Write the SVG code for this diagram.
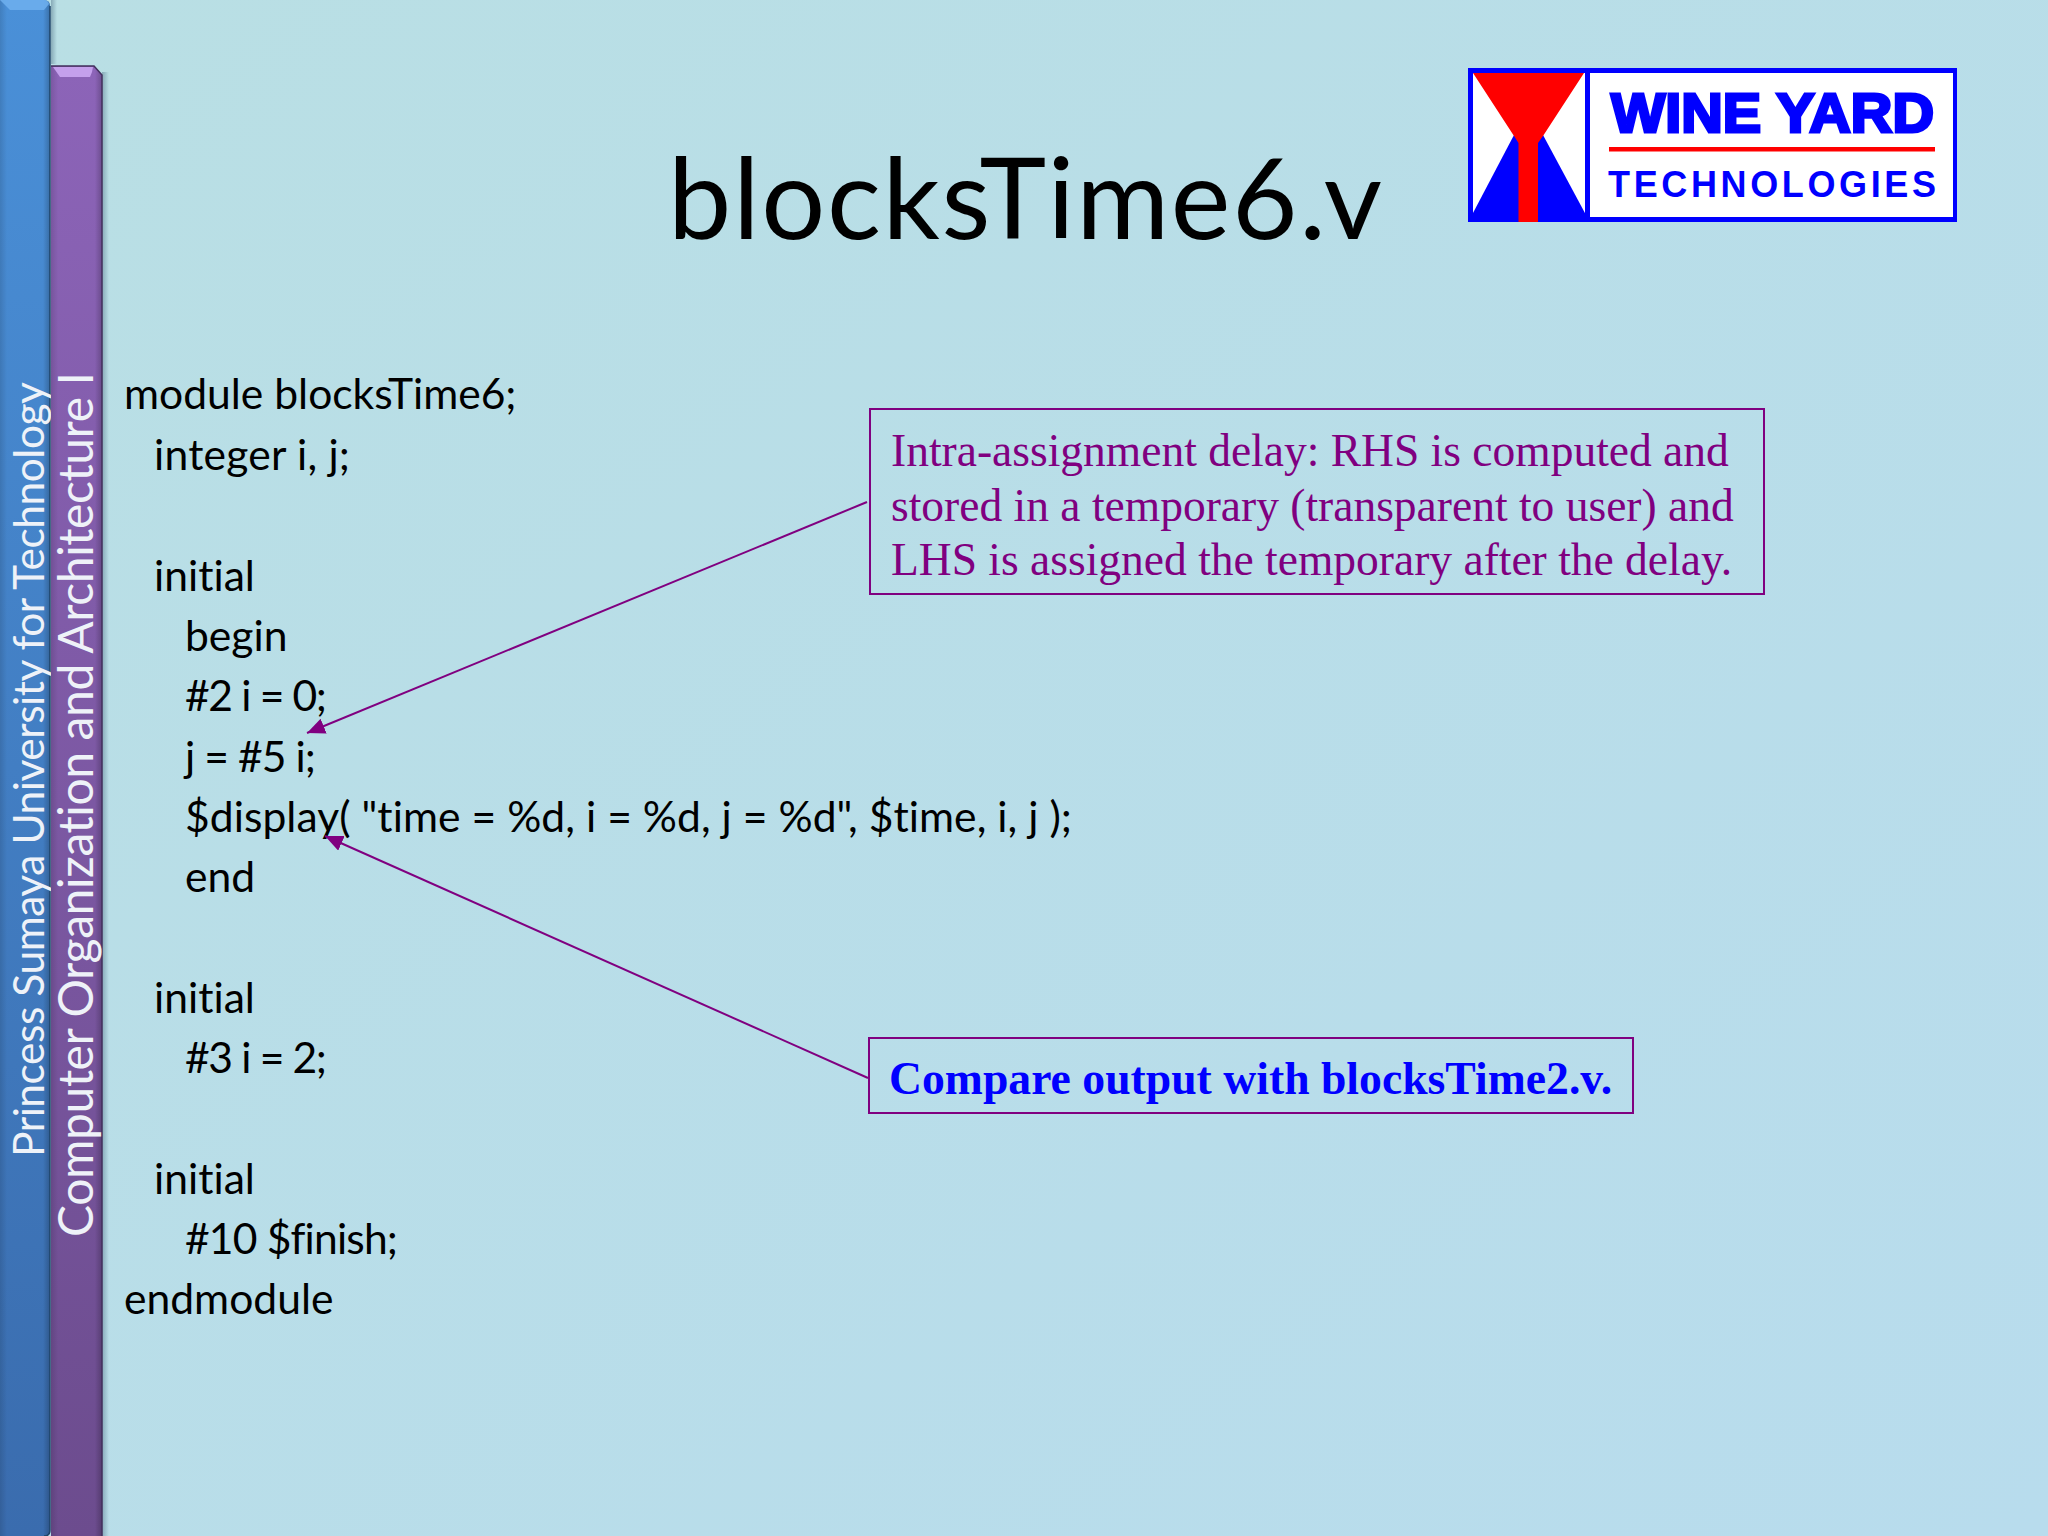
<svg xmlns="http://www.w3.org/2000/svg" width="2048" height="1536" viewBox="0 0 2048 1536">
<style>
text{font-variant-ligatures:none}
.code{font-family:"Lato","Open Sans",sans-serif;font-size:42.6px;fill:#000}
.side{font-family:"Lato","Open Sans",sans-serif;fill:#eef2f8}
.box{fill:none;stroke:#800080;stroke-width:2}
.conn{stroke:#800080;stroke-width:2;fill:none;marker-end:url(#ah)}
.note{font-family:"Liberation Serif",serif;font-size:45.5px;fill:#800080}
</style>
<defs>
<linearGradient id="bg" x1="0" y1="0" x2="1" y2="1"><stop offset="0" stop-color="#b9dfe4"/><stop offset="1" stop-color="#b8dced"/></linearGradient>
<linearGradient id="bl" x1="0" y1="0" x2="0" y2="1"><stop offset="0" stop-color="#4a90d8"/><stop offset="1" stop-color="#3a6cae"/></linearGradient>
<linearGradient id="pu" x1="0" y1="0" x2="0" y2="1"><stop offset="0" stop-color="#8c64b8"/><stop offset="1" stop-color="#6c4c8e"/></linearGradient>
<linearGradient id="edge" x1="0" y1="0" x2="1" y2="0"><stop offset="0" stop-color="#000" stop-opacity=".12"/><stop offset=".14" stop-color="#000" stop-opacity="0"/><stop offset=".86" stop-color="#000" stop-opacity="0"/><stop offset="1" stop-color="#000" stop-opacity=".22"/></linearGradient>
<linearGradient id="shade" x1="0" y1="0" x2="1" y2="0"><stop offset="0" stop-color="#4a6a80" stop-opacity=".45"/><stop offset="1" stop-color="#4a6a80" stop-opacity="0"/></linearGradient>
<marker id="ah" markerUnits="userSpaceOnUse" markerWidth="20" markerHeight="20" refX="18" refY="8" orient="auto"><path d="M0 0L18 8L0 16Z" fill="#800080"/></marker>
</defs>
<rect id="background" width="2048" height="1536" fill="url(#bg)"/>
<rect x="102" y="72" width="7" height="1464" fill="url(#shade)"/>
<rect x="51" y="0" width="6" height="64" fill="url(#shade)"/>
<g id="sidebar-blue">
<path d="M0 0H44Q50 0 50 6V1530Q50 1536 44 1536H0Z" fill="url(#bl)"/>
<path d="M0 0H44Q50 0 50 6V1530Q50 1536 44 1536H0Z" fill="url(#edge)"/>
<path d="M0 0H44Q48 0 49 4L44 10H10L4 4Z" fill="#6fb0ee" opacity=".85"/>
<path d="M50 6V1530Q50 1536 44 1536" fill="none" stroke="#1f4468" stroke-width="1.5"/>
<text class="side" transform="translate(44 1157) rotate(-90)" font-size="42.5" textLength="775">Princess Sumaya University for Technology</text>
</g>
<g id="sidebar-purple">
<path d="M51 66H94L102 75V1536H51Z" fill="url(#pu)"/>
<path d="M51 66H94L102 75V1536H51Z" fill="url(#edge)"/>
<path d="M53 67H93L92 72L90 77H60Z" fill="#c4a0ec"/>
<path d="M51 66H94L102 75V1536" fill="none" stroke="#43305e" stroke-width="1.500"/>
<text class="side" transform="translate(93 1237) rotate(-90)" font-size="48" textLength="865">Computer Organization and Architecture I</text>
</g>
<g id="title"><text x="668" y="239" font-family="Lato,'Open Sans',sans-serif" font-size="113" fill="#000" textLength="714">blocksTime6.v</text></g>
<g id="logo">
<rect x="1468" y="68" width="489" height="154" fill="#00f"/>
<rect x="1473" y="73" width="112" height="144" fill="#fff"/>
<rect x="1590" y="73" width="363" height="144" fill="#fff"/>
<path d="M1473 213L1514 135H1543L1586 215V222H1473Z" fill="#00f"/>
<path d="M1473 73H1584L1543 136L1538 143V222H1518.500V143L1514 136Z" fill="#f00"/>
<rect x="1609" y="147" width="326" height="4.500" fill="#f00"/>
<text x="1611" y="132" font-family="'Liberation Sans',sans-serif" font-weight="bold" font-size="55" fill="#00f" stroke="#00f" stroke-width="3" lengthAdjust="spacingAndGlyphs" textLength="323">WINE YARD</text>
<text x="1608" y="197" font-family="'Liberation Sans',sans-serif" font-weight="bold" font-size="36" fill="#00f" textLength="328">TECHNOLOGIES</text>
</g>
<g id="code">
<text class="code" x="124" y="409">module blocksTime6;</text>
<text class="code" x="154" y="470" textLength="196">integer i, j;</text>
<text class="code" x="154" y="591">initial</text>
<text class="code" x="185" y="651">begin</text>
<text class="code" x="185" y="711" textLength="142">#2 i = 0;</text>
<text class="code" x="185" y="772" textLength="131">j = #5 i;</text>
<text class="code" x="185" y="832" textLength="887">$display( "time = %d, i = %d, j = %d", $time, i, j );</text>
<text class="code" x="185" y="892">end</text>
<text class="code" x="154" y="1013">initial</text>
<text class="code" x="185" y="1073" textLength="142">#3 i = 2;</text>
<text class="code" x="154" y="1194">initial</text>
<text class="code" x="185" y="1254" textLength="213">#10 $finish;</text>
<text class="code" x="124" y="1314">endmodule</text>
</g>
<g id="note-intra">
<rect class="box" x="870" y="409" width="894" height="185"/>
<text class="note" x="891" y="466">Intra-assignment delay: RHS is computed and</text>
<text class="note" x="891" y="521">stored in a temporary (transparent to user) and</text>
<text class="note" x="891" y="575">LHS is assigned the temporary after the delay.</text>
</g>
<g id="note-compare">
<rect class="box" x="869" y="1038" width="764" height="75"/>
<text x="889" y="1094" font-family="'Liberation Serif',serif" font-weight="bold" font-size="45.7" fill="#00f">Compare output with blocksTime2.v.</text>
</g>
<g id="connectors">
<line class="conn" x1="867" y1="502" x2="307" y2="733"/>
<line class="conn" x1="868" y1="1078" x2="325" y2="836"/>
</g>
</svg>
